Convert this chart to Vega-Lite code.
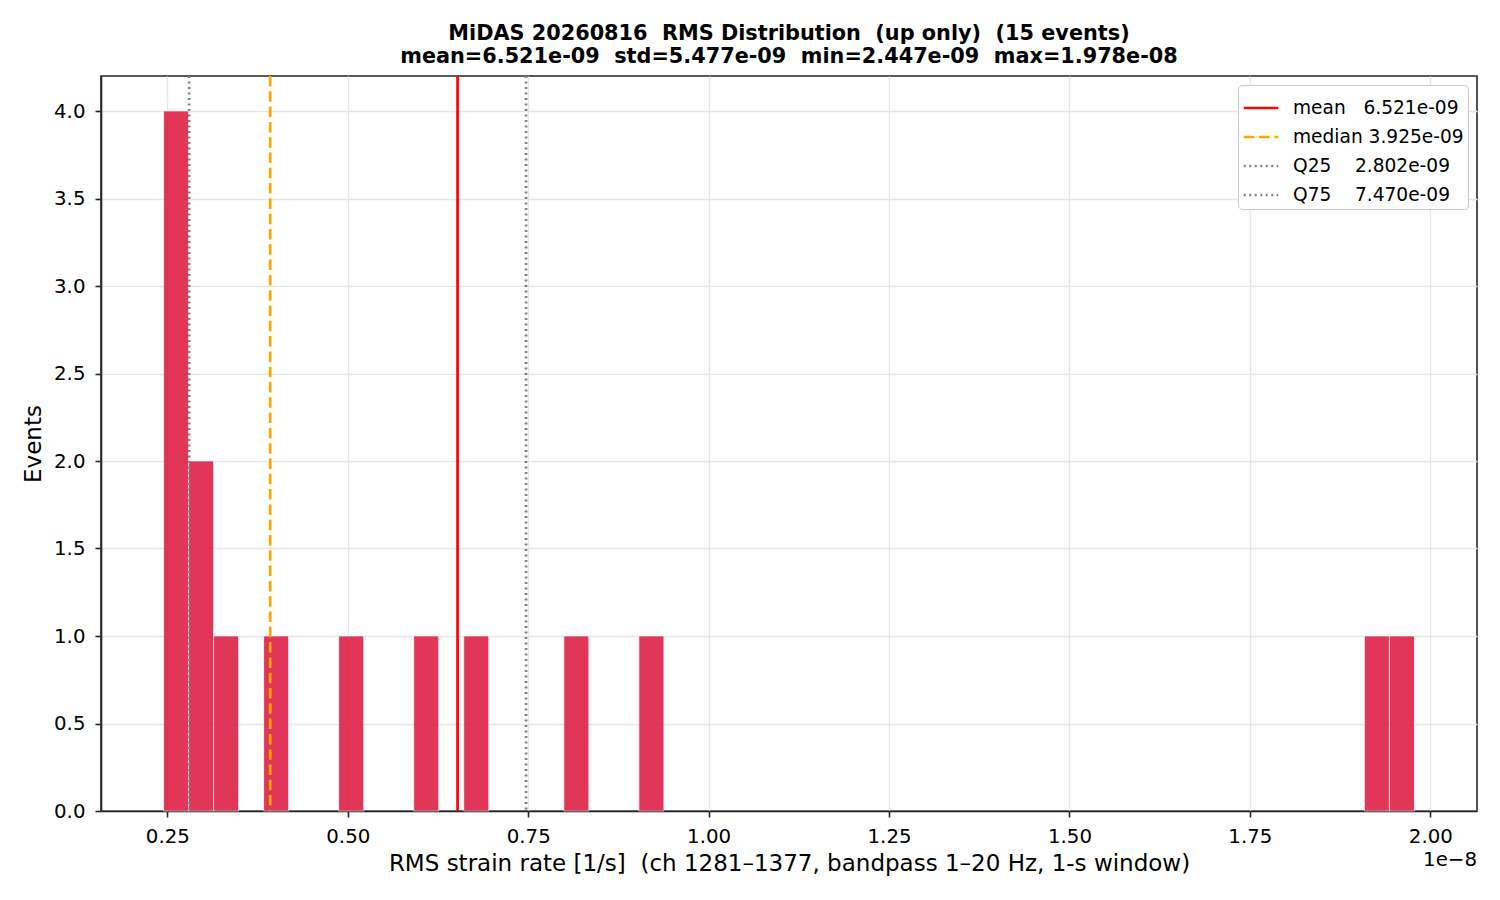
{
  "$schema": "https://vega.github.io/schema/vega-lite/v6.json",
  "width": 1376,
  "height": 735,
  "autosize": {"type": "none"},
  "padding": {"left": 101, "top": 76, "right": 23, "bottom": 89},
  "background": "white",
  "config": {
    "font": "DejaVu Sans",
    "view": {"stroke": "#262626", "strokeWidth": 1.6},
    "axis": {
      "labelFont": "DejaVu Sans",
      "titleFont": "DejaVu Sans",
      "labelFontSize": 19.8,
      "titleFontSize": 23,
      "titleFontWeight": "normal",
      "labelColor": "#000000",
      "titleColor": "#000000",
      "domainColor": "#262626",
      "domainWidth": 1.6,
      "tickColor": "#262626",
      "tickWidth": 1.6,
      "tickSize": 6,
      "gridColor": "#e6e6e6",
      "gridWidth": 1.3
    }
  },
  "title": {
    "text": ["MiDAS 20260816\u00a0\u00a0RMS Distribution\u00a0\u00a0(up only)\u00a0\u00a0(15 events)", "mean=6.521e-09\u00a0\u00a0std=5.477e-09\u00a0\u00a0min=2.447e-09\u00a0\u00a0max=1.978e-08"],
    "font": "DejaVu Sans",
    "fontSize": 20.8,
    "fontWeight": "bold",
    "color": "#000000",
    "lineHeight": 22.7,
    "anchor": "middle",
    "offset": 7
  },
  "datasets": {
    "bins": [
      {"bin_start": 2.447e-9, "bin_end": 2.7937e-9, "count": 4},
      {"bin_start": 2.7937e-9, "bin_end": 3.1403e-9, "count": 2},
      {"bin_start": 3.1403e-9, "bin_end": 3.487e-9, "count": 1},
      {"bin_start": 3.8337e-9, "bin_end": 4.1803e-9, "count": 1},
      {"bin_start": 4.8736e-9, "bin_end": 5.2203e-9, "count": 1},
      {"bin_start": 5.9136e-9, "bin_end": 6.2603e-9, "count": 1},
      {"bin_start": 6.6069e-9, "bin_end": 6.9536e-9, "count": 1},
      {"bin_start": 7.9936e-9, "bin_end": 8.3402e-9, "count": 1},
      {"bin_start": 9.0336e-9, "bin_end": 9.3802e-9, "count": 1},
      {"bin_start": 1.90867e-8, "bin_end": 1.94334e-8, "count": 1},
      {"bin_start": 1.94334e-8, "bin_end": 1.978e-8, "count": 1}
    ],
    "stats": [
      {"stat": "mean", "value": 6.521e-9, "label": "mean\u00a0\u00a0\u00a06.521e-09"},
      {"stat": "median", "value": 3.925e-9, "label": "median\u00a03.925e-09"},
      {"stat": "Q25", "value": 2.802e-9, "label": "Q25\u00a0\u00a0\u00a0\u00a02.802e-09"},
      {"stat": "Q75", "value": 7.47e-9, "label": "Q75\u00a0\u00a0\u00a0\u00a07.470e-09"}
    ],
    "offset": [{"text": "1e\u22128", "x": 2.0647e-8, "y": 0}]
  },
  "layer": [
    {
      "data": {"name": "bins"},
      "mark": {"type": "rect", "color": "#DC143C", "opacity": 0.85, "stroke": "#ffffff", "strokeOpacity": 0.7, "strokeWidth": 1},
      "encoding": {
        "x": {
          "field": "bin_start", "type": "quantitative",
          "scale": {"domain": [1.5803e-9, 2.0647e-8], "nice": false, "zero": false},
          "axis": {
            "title": "RMS strain rate [1/s]\u00a0\u00a0(ch 1281\u20131377, bandpass 1\u201320 Hz, 1-s window)",
            "values": [2.5e-9, 5e-9, 7.5e-9, 1e-8, 1.25e-8, 1.5e-8, 1.75e-8, 2e-8],
            "labelExpr": "format(datum.value * 1e8, '.2f')",
            "labelPadding": 9,
            "titlePadding": 7,
            "grid": true
          }
        },
        "x2": {"field": "bin_end"},
        "y": {
          "field": "count", "type": "quantitative",
          "scale": {"domain": [0, 4.2], "nice": false},
          "axis": {
            "title": "Events",
            "values": [0, 0.5, 1, 1.5, 2, 2.5, 3, 3.5, 4],
            "format": ".1f",
            "labelPadding": 10,
            "titlePadding": 8,
            "grid": true
          }
        },
        "y2": {"datum": 0}
      }
    },
    {
      "data": {"name": "stats"},
      "mark": {"type": "rule"},
      "encoding": {
        "x": {"field": "value", "type": "quantitative"},
        "color": {
          "field": "label", "type": "nominal",
          "scale": {
            "domain": ["mean\u00a0\u00a0\u00a06.521e-09", "median\u00a03.925e-09", "Q25\u00a0\u00a0\u00a0\u00a02.802e-09", "Q75\u00a0\u00a0\u00a0\u00a07.470e-09"],
            "range": ["#ff0000", "#ffa500", "#808080", "#808080"]
          },
          "legend": {
            "title": null,
            "orient": "top-right",
            "offset": 9,
            "padding": 4,
            "fillColor": "#ffffff",
            "strokeColor": "#cccccc",
            "cornerRadius": 4,
            "labelFont": "DejaVu Sans",
            "labelFontSize": 18.6,
            "labelColor": "#000000",
            "labelLimit": 400,
            "symbolType": "stroke",
            "symbolSize": 1190,
            "symbolStrokeWidth": 2.6,
            "rowPadding": 0,
            "labelOffset": 13
          }
        },
        "strokeDash": {
          "field": "label", "type": "nominal",
          "scale": {
            "domain": ["mean\u00a0\u00a0\u00a06.521e-09", "median\u00a03.925e-09", "Q25\u00a0\u00a0\u00a0\u00a02.802e-09", "Q75\u00a0\u00a0\u00a0\u00a07.470e-09"],
            "range": [[1, 0], [10.5, 4.8], [2, 3.5], [2, 3.5]]
          }
        },
        "strokeWidth": {
          "field": "label", "type": "nominal",
          "scale": {
            "domain": ["mean\u00a0\u00a0\u00a06.521e-09", "median\u00a03.925e-09", "Q25\u00a0\u00a0\u00a0\u00a02.802e-09", "Q75\u00a0\u00a0\u00a0\u00a07.470e-09"],
            "range": [2.7, 2.7, 1.6, 1.6]
          },
          "legend": null
        }
      }
    },
    {
      "data": {"name": "offset"},
      "mark": {"type": "text", "align": "right", "baseline": "middle", "dy": 49, "fontSize": 19.8, "font": "DejaVu Sans", "color": "#000000"},
      "encoding": {
        "x": {"field": "x", "type": "quantitative"},
        "y": {"field": "y", "type": "quantitative"},
        "text": {"field": "text"}
      }
    }
  ]
}
